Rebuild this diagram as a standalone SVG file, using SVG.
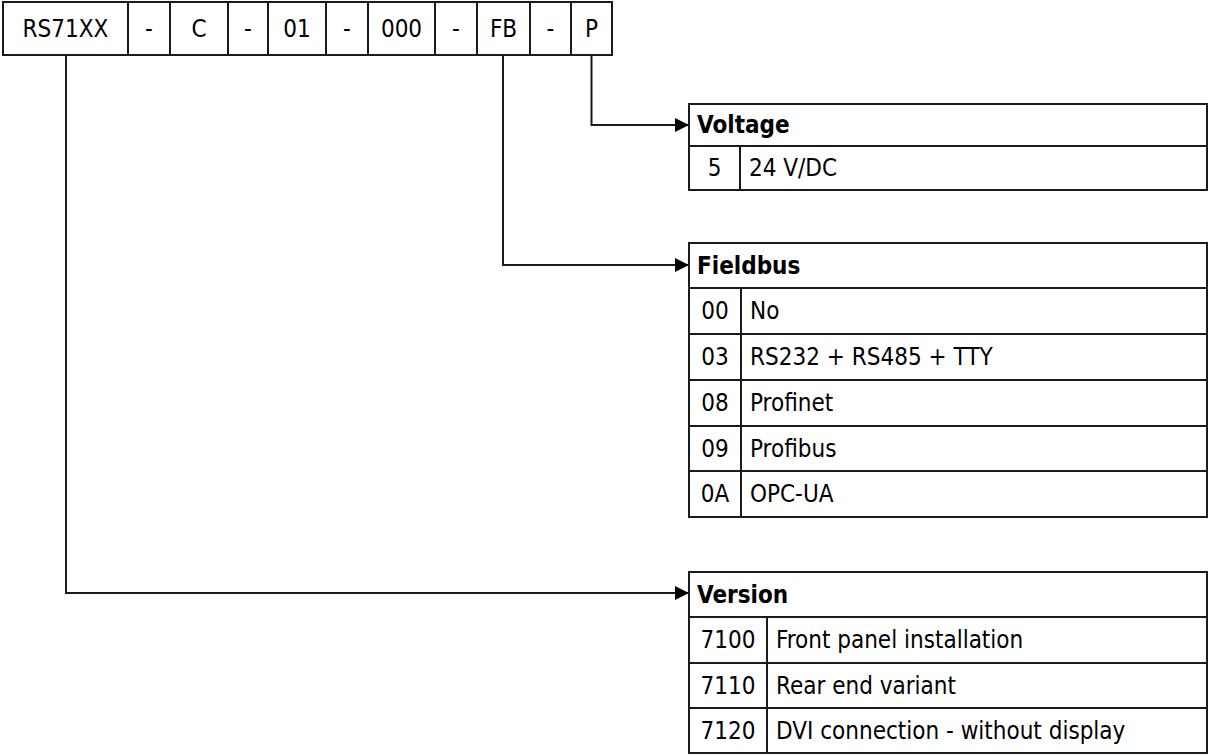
<svg xmlns="http://www.w3.org/2000/svg" width="1208" height="756" viewBox="0 0 1208 756">
<style>
.b{fill:#fff;stroke:#1a1a1a;stroke-width:2}
.l{stroke:#1a1a1a;stroke-width:2;fill:none}
text{font-family:"DejaVu Sans Condensed","DejaVu Sans",sans-serif;font-size:24px;fill:#000;dominant-baseline:central}
.c{text-anchor:middle}
.h{font-weight:bold}
</style>
<defs>
<marker id="ar" markerUnits="userSpaceOnUse" markerWidth="15" markerHeight="15" refX="14" refY="7" orient="auto">
<path d="M0,0 L14,7 L0,14 z" fill="#000"/>
</marker>
</defs>
<rect width="1208" height="756" fill="#fff"/>
<g id="code">
<rect class="b" x="3" y="2" width="125" height="53"/><text class="c" x="65.5" y="28.5">RS71XX</text>
<rect class="b" x="128" y="2" width="42" height="53"/><text class="c" x="149" y="28.5">-</text>
<rect class="b" x="170" y="2" width="58" height="53"/><text class="c" x="199" y="28.5">C</text>
<rect class="b" x="228" y="2" width="40" height="53"/><text class="c" x="248" y="28.5">-</text>
<rect class="b" x="268" y="2" width="58" height="53"/><text class="c" x="297" y="28.5">01</text>
<rect class="b" x="326" y="2" width="42" height="53"/><text class="c" x="347" y="28.5">-</text>
<rect class="b" x="368" y="2" width="67" height="53"/><text class="c" x="401.5" y="28.5">000</text>
<rect class="b" x="435" y="2" width="42" height="53"/><text class="c" x="456" y="28.5">-</text>
<rect class="b" x="477" y="2" width="53" height="53"/><text class="c" x="503.5" y="28.5">FB</text>
<rect class="b" x="530" y="2" width="41" height="53"/><text class="c" x="550.5" y="28.5">-</text>
<rect class="b" x="571" y="2" width="41" height="53"/><text class="c" x="591.5" y="28.5">P</text>
</g>
<g id="connectors">
<polyline class="l" points="591.5,55 591.5,125 689,125" marker-end="url(#ar)"/>
<polyline class="l" points="503,55 503,265 689,265" marker-end="url(#ar)"/>
<polyline class="l" points="66,55 66,593 689,593" marker-end="url(#ar)"/>
</g>
<g id="voltage">
<rect class="b" x="689" y="104" width="518" height="86"/>
<line class="l" x1="689" y1="146" x2="1207" y2="146"/>
<line class="l" x1="740" y1="146" x2="740" y2="190"/>
<text class="h" x="697" y="125">Voltage</text>
<text class="c" x="714.5" y="168">5</text>
<text x="749" y="168">24 V/DC</text>
</g>
<g id="fieldbus">
<rect class="b" x="689" y="243" width="518" height="274"/>
<line class="l" x1="689" y1="288" x2="1207" y2="288"/>
<line class="l" x1="689" y1="334" x2="1207" y2="334"/>
<line class="l" x1="689" y1="380" x2="1207" y2="380"/>
<line class="l" x1="689" y1="426" x2="1207" y2="426"/>
<line class="l" x1="689" y1="471" x2="1207" y2="471"/>
<line class="l" x1="741" y1="288" x2="741" y2="517"/>
<text class="h" x="697" y="265.5">Fieldbus</text>
<text class="c" x="715" y="311">00</text><text x="750" y="311">No</text>
<text class="c" x="715" y="357">03</text><text x="750" y="357">RS232 + RS485 + TTY</text>
<text class="c" x="715" y="403">08</text><text x="750" y="403">Profinet</text>
<text class="c" x="715" y="448.5">09</text><text x="750" y="448.5">Profibus</text>
<text class="c" x="715" y="494">0A</text><text x="750" y="494">OPC-UA</text>
</g>
<g id="version">
<rect class="b" x="689" y="572" width="518" height="181"/>
<line class="l" x1="689" y1="617" x2="1207" y2="617"/>
<line class="l" x1="689" y1="663" x2="1207" y2="663"/>
<line class="l" x1="689" y1="708" x2="1207" y2="708"/>
<line class="l" x1="767" y1="617" x2="767" y2="753"/>
<text class="h" x="697" y="594.5">Version</text>
<text class="c" x="728" y="640">7100</text><text x="776" y="640">Front panel installation</text>
<text class="c" x="728" y="685.5">7110</text><text x="776" y="685.5">Rear end variant</text>
<text class="c" x="728" y="730.5">7120</text><text x="776" y="730.5">DVI connection - without display</text>
</g>
</svg>
